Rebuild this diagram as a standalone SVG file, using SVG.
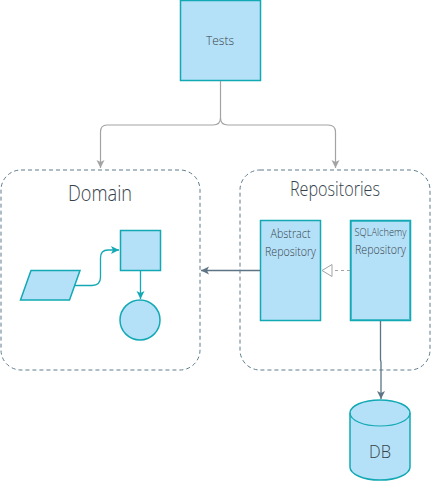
<svg xmlns="http://www.w3.org/2000/svg" width="431" height="481" viewBox="0 0 431 481">
<style>
.box{fill:#b5e1f8;stroke:#12a9b4;stroke-width:1.5}
.cont{fill:none;stroke:#5e7d8c;stroke-width:1;stroke-dasharray:4 3}
.t{font-family:"Liberation Sans Narrow","Open Sans","Liberation Sans",sans-serif;font-weight:300;fill:#36424a;text-anchor:middle}
.gray{fill:none;stroke:#a3a3a3;stroke-width:1.2}
.slate{fill:none;stroke:#5c7483;stroke-width:1.3}
.teal{fill:none;stroke:#12a9b4;stroke-width:1.3}
</style>
<defs>
<marker id="ag" markerWidth="10" markerHeight="10" refX="8" refY="5" orient="auto" markerUnits="userSpaceOnUse"><path d="M0,1 L8,5 L0,9 L2,5 Z" fill="#a3a3a3"/></marker>
<marker id="as" markerWidth="10" markerHeight="10" refX="8" refY="5" orient="auto" markerUnits="userSpaceOnUse"><path d="M0,1 L8,5 L0,9 L2,5 Z" fill="#5c7483"/></marker>
<marker id="at" markerWidth="10" markerHeight="10" refX="8" refY="5" orient="auto" markerUnits="userSpaceOnUse"><path d="M0,1 L8,5 L0,9 L2,5 Z" fill="#12a9b4"/></marker>
<marker id="ah" markerWidth="14" markerHeight="14" refX="11" refY="7" orient="auto" markerUnits="userSpaceOnUse"><path d="M1,1 L11,7 L1,13 Z" fill="#fff" stroke="#a3a3a3" stroke-width="1"/></marker>
</defs>
<g id="domain">
<rect class="cont" x="1" y="170" width="199" height="200" rx="20"/>
<text class="t" x="100" y="201" font-size="22" textLength="64" lengthAdjust="spacingAndGlyphs">Domain</text>
</g>
<g id="repositories">
<rect class="cont" x="240" y="170" width="190" height="200" rx="20"/>
<text class="t" x="335" y="196" font-size="20" textLength="90" lengthAdjust="spacingAndGlyphs">Repositories</text>
</g>
<g id="tests">
<rect class="box" x="180.5" y="0.5" width="80" height="80"/>
<text class="t" x="220" y="45" font-size="13" textLength="28" lengthAdjust="spacingAndGlyphs">Tests</text>
</g>
<g id="input">
<polygon class="box" points="20.5,300 31,270.5 80,270.5 69.5,300" stroke-width="1.2"/>
</g>
<g id="process">
<rect class="box" x="120.5" y="230.5" width="40" height="40" stroke-width="1.2"/>
</g>
<g id="output">
<circle class="box" cx="140" cy="320" r="20" stroke-width="1.2"/>
</g>
<g id="abstract-repository">
<rect class="box" x="260.5" y="220.5" width="60" height="100"/>
<text class="t" x="290.5" y="238" font-size="12" textLength="40" lengthAdjust="spacingAndGlyphs">Abstract</text>
<text class="t" x="290.5" y="256" font-size="12" textLength="51" lengthAdjust="spacingAndGlyphs">Repository</text>
</g>
<g id="sqlalchemy-repository">
<rect class="box" x="350.5" y="220.5" width="60" height="100" stroke="#5cc6cf"/>
<rect x="351.5" y="221.5" width="58" height="98" fill="none" stroke="#12a9b4" stroke-width="0.6"/>
<text class="t" x="380.5" y="236" font-size="11" textLength="52" lengthAdjust="spacingAndGlyphs">SQLAlchemy</text>
<text class="t" x="380.5" y="254" font-size="12" textLength="51" lengthAdjust="spacingAndGlyphs">Repository</text>
</g>
<g id="db">
<path class="box" d="M350,413 A30,13 0 0 1 410,413 L410,467 A30,13 0 0 1 350,467 Z"/>
<path d="M350,413 A30,13 0 0 0 410,413" fill="none" stroke="#12a9b4" stroke-width="1.2"/>
<text class="t" x="380" y="458" font-size="19" textLength="22" lengthAdjust="spacingAndGlyphs">DB</text>
</g>
<g id="connectors">
<path class="gray" d="M220.5,81 L220.5,118 Q220.5,125 213,125 L107,125 Q100.5,125 100.5,132 L100.5,168" marker-end="url(#ag)"/>
<path class="gray" d="M220.5,118 Q220.5,125 228,125 L328,125 Q335.5,125 335.5,132 L335.5,168" marker-end="url(#ag)"/>
<path class="slate" d="M260,270.5 L201,270.5" marker-end="url(#as)"/>
<path d="M350,270.5 L322,270.5" fill="none" stroke="#a3a3a3" stroke-width="1.2" stroke-dasharray="3 3" marker-end="url(#ah)"/>
<path class="slate" d="M380.5,321 L380.5,360 L381,362 L381,399" marker-end="url(#as)"/>
<path class="teal" d="M74,285.5 L92,285.5 Q100.5,285.5 100.5,277 L100.5,258 Q100.5,250 108,250 L119,250" marker-end="url(#at)"/>
<path class="teal" d="M140.5,271 L140.5,299" marker-end="url(#at)"/>
</g>
</svg>
